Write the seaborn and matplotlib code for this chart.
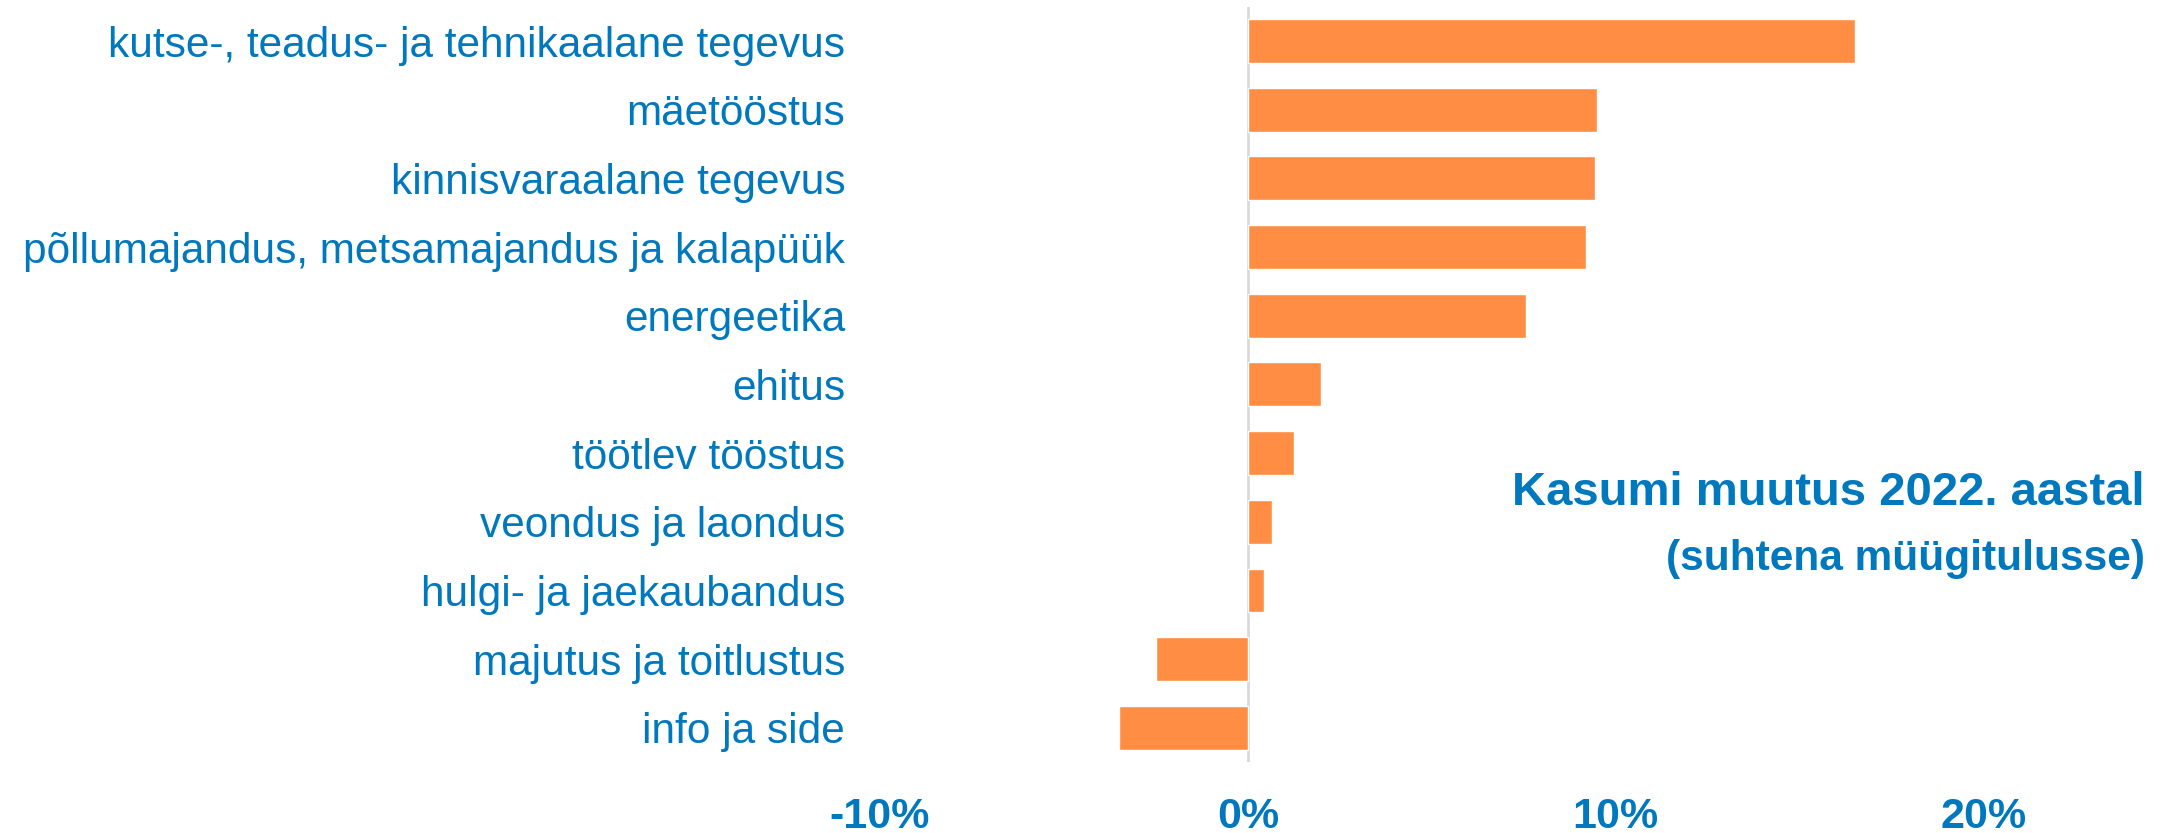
import matplotlib
matplotlib.use("Agg")
import matplotlib.pyplot as plt
import seaborn as sns
import pandas as pd
from matplotlib import font_manager

# Data (change of profit, % of sales revenue)
categories = [
    "kutse-, teadus- ja tehnikaalane tegevus",
    "mäetööstus",
    "kinnisvaraalane tegevus",
    "põllumajandus, metsamajandus ja kalapüük",
    "energeetika",
    "ehitus",
    "töötlev tööstus",
    "veondus ja laondus",
    "hulgi- ja jaekaubandus",
    "majutus ja toitlustus",
    "info ja side",
]
values = [16.5, 9.5, 9.45, 9.2, 7.55, 2.0, 1.25, 0.67, 0.43, -2.5, -3.5]
tick_values = [-10, 0, 10, 20]
tick_labels = ["-10%", "0%", "10%", "20%"]

BLUE = "#0078BE"
ORANGE = "#FF8E44"

sns.set_style("white")
installed = {f.name for f in font_manager.fontManager.ttflist}
family = "Liberation Sans Narrow" if "Liberation Sans Narrow" in installed else "Liberation Sans"
plt.rcParams["font.family"] = [family, "DejaVu Sans"]

df = pd.DataFrame({"sector": categories, "change": values})

fig = plt.figure(figsize=(21.62, 8.33), dpi=100)
ax = fig.add_axes([0.407, 0.085, 0.593, 0.907])

sns.barplot(data=df, x="change", y="sector", orient="h", color=ORANGE,
            width=0.64, saturation=1, ax=ax)

ax.set_xlim(-10, 24.85)
ax.set_ylim(len(categories) - 0.5, -0.5)
ax.axvline(0, color="#D9D9D9", lw=2, zorder=0)

for s in ax.spines.values():
    s.set_visible(False)

ax.set_xticks(tick_values)
ax.set_xticklabels(tick_labels, fontsize=31, fontweight="bold", color=BLUE)
ax.tick_params(axis="x", length=0, pad=25)
ax.tick_params(axis="y", length=0, pad=25, labelsize=30.5, labelcolor=BLUE)
ax.set_xlabel("")
ax.set_ylabel("")

fig.text(0.992, 0.408, "Kasumi muutus 2022. aastal", ha="right", va="center",
         fontsize=34, fontweight="bold", color=BLUE)
fig.text(0.992, 0.329, "(suhtena müügitulusse)", ha="right", va="center",
         fontsize=30.5, fontweight="bold", color=BLUE)

fig.savefig("out.png", dpi=100)
